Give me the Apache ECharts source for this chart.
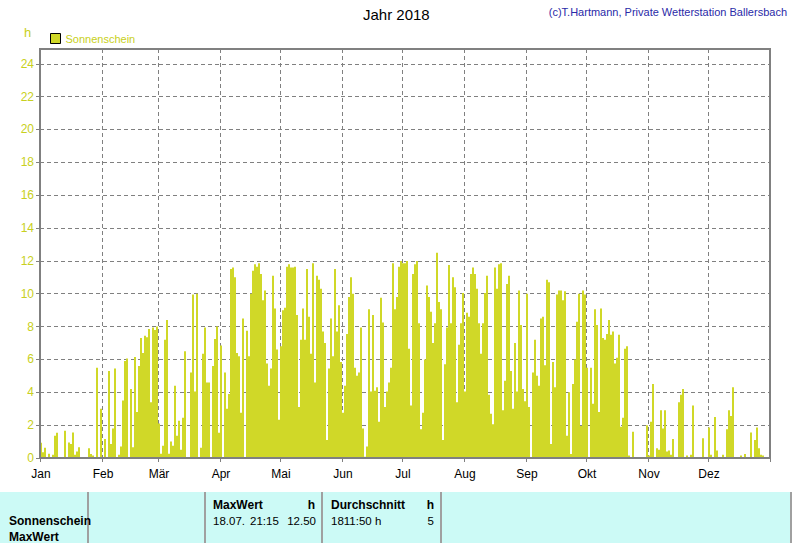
<!DOCTYPE html>
<html><head><meta charset="utf-8">
<script src="https://cdn.jsdelivr.net/npm/echarts@6/dist/echarts.min.js"></script>
<style>html,body{margin:0;padding:0;background:#fff}#c{width:802px;height:543px}</style>
</head><body><div id="c"></div>
<script>
const monthNames = ['Jan','Feb','Mär','Apr','Mai','Jun','Jul','Aug','Sep','Okt','Nov','Dez'];
// daily sunshine hours 2018
const jan = [0.93,0.35,0.63,0.05,0.26,0,0.2,1.36,1.54,0,0,0,1.66,0.05,0.95,0.85,1.56,0.2,0.4,0.65,0,0.05,0.05,0,0.6,0.25,0.15,0.05,5.5,0,3.0];
const feb = [0,1.15,0,5.3,0.85,1.8,5.45,0.05,0.2,0.7,3.5,5.9,6.05,0,4.2,0.65,6.15,2.8,5.6,7.3,6.4,7.45,7.35,7.85,3.4,7.95,7.8,8.0];
const mar = [2.1,0.26,0.75,7.2,8.4,0.26,1.0,0.75,4.4,1.36,2.27,0.5,2.45,6.5,0,0,5.2,9.95,4.05,10.0,0,0.63,6.35,7.95,4.6,4.6,0,5.6,7.25,8.0,1.54];
const apr = [6.85,0,5.2,3.0,3.9,11.5,11.6,11.0,6.4,6.2,2.75,8.5,0,7.75,6.2,10.0,11.4,11.8,11.65,11.85,11.2,9.6,10.2,5.75,4.4,5.45,11.1,9.1,6.6,2.33];
const mai = [6.8,9.0,9.15,11.65,11.8,11.6,11.6,11.65,8.7,3.1,7.2,9.1,7.2,11.5,8.6,6.35,11.85,4.6,11.1,10.85,10.3,7.7,7.0,1.1,5.45,8.5,6.2,11.5,7.7,9.3,5.85];
const jun = [2.75,4.4,7.55,9.8,11.0,10.0,5.5,5.0,5.2,7.95,1.8,0.08,0.7,9.05,4.05,8.7,4.1,4.3,2.2,9.75,8.25,3.1,4.05,4.6,5.5,11.85,9.05,9.8,11.65,12.0];
const jul = [11.85,11.85,12.0,6.65,3.2,11.2,11.8,12.0,8.2,1.75,2.75,6.0,10.5,9.8,8.9,7.0,8.2,12.5,9.5,9.05,1.1,5.7,7.95,11.75,8.2,11.0,10.4,3.4,6.9,8.2,10.05];
const aug = [4.05,8.85,8.6,11.2,11.6,11.2,10.3,8.2,6.35,8.2,10.05,11.1,3.85,2.7,2.05,11.6,10.3,11.8,11.85,2.9,4.7,10.6,11.1,5.3,3.0,7.0,4.05,10.2,8.1,4.2,3.45];
const sep = [10.0,3.1,0,5.2,7.2,5.0,4.4,8.5,8.6,5.65,10.85,10.7,0.85,5.85,4.3,9.95,10.2,10.2,9.6,10.15,1.35,4.0,0.25,4.5,6.0,8.3,10.0,1.95,10.2,9.95];
const okt = [5.5,0,5.5,3.3,9.05,8.1,2.8,9.1,7.3,7.2,7.55,8.4,7.5,7.7,5.75,6.1,7.5,1.9,2.45,6.65,6.8,0.15,0.05,1.6,0,0,0,0,0,0,2.0];
const nov = [0.15,2.2,4.5,0,0.6,0.5,2.9,1.8,2.9,0.4,0.45,0.2,1.15,0,0,3.4,3.85,4.2,0,0.15,0,0.2,3.2,0,0,0,0,1.2,0,0];
const dez = [1.85,0.2,0,2.5,0.45,0,0,0.2,0,1.75,2.9,2.55,4.3,0,0,0,0.15,0,0.25,0,0,1.55,0,1.1,1.85,0.6,0.2,0.15,0,0,0];
const yTicks = [0,2,4,6,8,10,12,14,16,18,20,22,24];

const months = [jan,feb,mar,apr,mai,jun,jul,aug,sep,okt,nov,dez];
const sunshine = [].concat(...months);
const days = [];
const monthStart = {};
let idx = 0;
months.forEach((m, mi) => {
  monthStart[idx] = monthNames[mi];
  m.forEach((v, di) => {
    days.push(String(di + 1).padStart(2, '0') + '.' + String(mi + 1).padStart(2, '0') + '.');
    idx++;
  });
});
const isStart = (i) => Object.prototype.hasOwnProperty.call(monthStart, i);

const C_BAR = '#d0d828', C_LABEL = '#c8d020', C_GRID = '#808080';
const FONT = 'Liberation Sans, Arial, sans-serif';
const chart = echarts.init(document.getElementById('c'), null, {renderer: 'svg'});

function txt(text, x, y, opt) {
  opt = opt || {};
  return {type: 'text', x: x, y: y, z: 101, silent: true,
    style: {text: text, fill: '#000', fontFamily: FONT, fontSize: opt.size || (opt.bold ? 12 : 11.5),
      fontWeight: opt.bold ? 'bold' : 'normal', align: opt.align || 'left', verticalAlign: 'middle'}};
}
function vline(x) {
  return {type: 'line', z: 101, silent: true, shape: {x1: x, y1: 492, x2: x, y2: 543},
    style: {stroke: '#a0a0a0', lineWidth: 2}};
}

chart.setOption({
  animation: false,
  backgroundColor: '#fff',
  textStyle: {fontFamily: FONT},
  title: [
    {text: 'Jahr 2018', left: 363, top: 7, padding: 0,
      textStyle: {fontSize: 15, fontWeight: 'normal', color: '#000', fontFamily: FONT}},
    {text: '(c)T.Hartmann, Private Wetterstation Ballersbach', right: 15, top: 6, padding: 0,
      textStyle: {fontSize: 11, fontWeight: 'normal', color: '#2a2aa8', fontFamily: FONT}},
    {text: 'h', left: 24, top: 26, padding: 0,
      textStyle: {fontSize: 13, fontWeight: 'normal', color: C_LABEL, fontFamily: FONT}}
  ],
  legend: {data: ['Sonnenschein'], left: 50, top: 33, padding: 0, itemWidth: 10, itemHeight: 10,
    icon: 'rect', itemStyle: {borderColor: '#000', borderWidth: 1},
    textStyle: {color: C_LABEL, fontSize: 11, fontFamily: FONT}},
  grid: {left: 40, right: 32, top: 49, bottom: 85},
  xAxis: {
    type: 'category', data: days, boundaryGap: true,
    axisLine: {show: false},
    axisTick: {show: true, interval: isStart, length: 4, lineStyle: {color: C_GRID}},
    axisLabel: {interval: isStart, formatter: (v, i) => monthStart[i] || '', color: '#000', fontSize: 12, margin: 10},
    splitLine: {show: true, interval: isStart, lineStyle: {color: C_GRID, type: [4, 3], width: 1}}
  },
  yAxis: {
    type: 'value', min: 0, max: 24.9, interval: 2,
    axisLine: {show: false},
    axisTick: {show: true, length: 4, lineStyle: {color: C_GRID}, customValues: yTicks},
    axisLabel: {color: C_LABEL, fontSize: 12, margin: 6, customValues: yTicks},
    splitLine: {show: true, lineStyle: {color: C_GRID, type: [4, 3], width: 1}}
  },
  series: [{name: 'Sonnenschein', type: 'bar', data: sunshine, barCategoryGap: '0%', barGap: '0%',
    itemStyle: {color: C_BAR}, emphasis: {disabled: true}}],
  graphic: [
    {type: 'rect', z: 100, silent: true, shape: {x: 40, y: 49, width: 730, height: 409},
      style: {fill: 'none', stroke: '#808080', lineWidth: 2}},
    {type: 'rect', z: 99, silent: true, shape: {x: 0, y: 492, width: 791, height: 51},
      style: {fill: '#ccfaf6'}},
    vline(88), vline(205), vline(322), vline(441), vline(791),
    txt('Sonnenschein', 9, 521, {bold: true}),
    txt('MaxWert', 9, 537, {bold: true}),
    txt('MaxWert', 213, 505, {bold: true}),
    txt('h', 315, 505, {bold: true, align: 'right'}),
    txt('18.07.', 213, 521),
    txt('21:15', 250, 521),
    txt('12.50', 316, 521, {align: 'right'}),
    txt('Durchschnitt', 331, 505, {bold: true}),
    txt('h', 434, 505, {bold: true, align: 'right'}),
    txt('1811:50 h', 331, 521),
    txt('5', 434, 521, {align: 'right'})
  ]
});
</script></body></html>
